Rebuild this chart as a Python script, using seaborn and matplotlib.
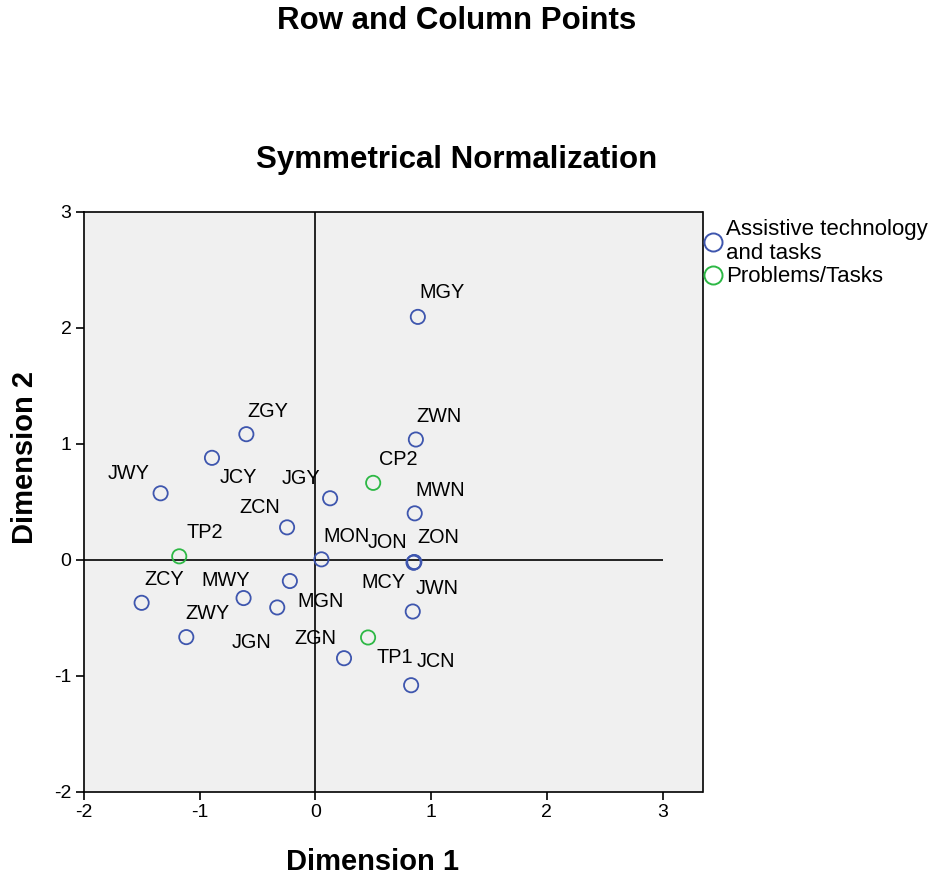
import matplotlib
matplotlib.use("Agg")
import matplotlib.pyplot as plt
from matplotlib.lines import Line2D
import seaborn as sns
import pandas as pd

# Row points: assistive technology and tasks
row_labels = ["MGY", "ZGY", "JCY", "JWY", "JGY", "ZWN", "MWN", "ZCN", "MON", "JON",
              "ZON", "MCY", "ZCY", "MWY", "MGN", "JGN", "ZWY", "ZGN", "JWN", "JCN"]
row_dim1 = [0.885, -0.597, -0.894, -1.338, 0.127, 0.868, 0.858, -0.245, 0.052, 0.851,
            0.855, 0.848, -1.502, -0.621, -0.221, -0.330, -1.116, 0.247, 0.841, 0.827]
row_dim2 = [2.095, 1.083, 0.879, 0.573, 0.530, 1.037, 0.400, 0.279, 0.003, -0.023,
            -0.020, -0.026, -0.372, -0.331, -0.184, -0.412, -0.668, -0.850, -0.447, -1.083]

# Column points: problems / tasks
col_labels = ["CP2", "TP2", "TP1"]
col_dim1 = [0.499, -1.177, 0.455]
col_dim2 = [0.663, 0.029, -0.671]

series_names = ["Assistive technology\nand tasks", "Problems/Tasks"]
x_ticks = [-2, -1, 0, 1, 2, 3]
y_ticks = [-2, -1, 0, 1, 2, 3]

# Label placement (offset in pixels from each point to the label's left/middle)
label_offsets = {
    "MGY": (2, 24), "ZGY": (1, 23), "JCY": (8, -20), "JWY": (-53, 20),
    "JGY": (-48, 20), "ZWN": (1, 23), "MWN": (1, 23), "ZCN": (-48, 20),
    "MON": (2, 23), "JON": (-46, 20), "ZON": (3, 25), "MCY": (-52, -20),
    "ZCY": (3, 23), "MWY": (-42, 18), "MGN": (8, -20), "JGN": (-46, -35),
    "ZWY": (-1, 24), "ZGN": (-50, 20), "JWN": (3, 23), "JCN": (6, 24),
    "CP2": (6, 23), "TP2": (7, 24), "TP1": (8, -20),
}

blue = "#3E56AE"
green = "#2DB845"

rows = pd.DataFrame({"label": row_labels, "dim1": row_dim1, "dim2": row_dim2})
cols = pd.DataFrame({"label": col_labels, "dim1": col_dim1, "dim2": col_dim2})

sns.set_style("white")
plt.rcParams["font.family"] = ["Liberation Sans", "DejaVu Sans"]
plt.rcParams["axes.unicode_minus"] = False
plt.rcParams["text.color"] = "black"
plt.rcParams["axes.labelcolor"] = "black"

fig = plt.figure(figsize=(9.32, 8.8), dpi=100)
ax = fig.add_axes([84 / 932, 1 - 791.5 / 880, (702.5 - 84) / 932, (791.5 - 212) / 880])
ax.set_facecolor("#F0F0F0")

# Reference lines through the origin
ax.axvline(0, color="black", lw=1.2, zorder=1)
ax.hlines(0, x_ticks[0], x_ticks[-1], color="black", lw=1.2, zorder=1)

for df, col in ((rows, blue), (cols, green)):
    sns.scatterplot(data=df, x="dim1", y="dim2", ax=ax, s=105, facecolor="none",
                    edgecolor=col, linewidth=1.3, legend=False, zorder=3)
    for lab, xv, yv in zip(df["label"], df["dim1"], df["dim2"]):
        dx, dy = label_offsets[lab]
        ax.annotate(lab, (xv, yv), xytext=(dx, dy), textcoords="offset pixels",
                    ha="left", va="center", fontsize=14.3, color="black", zorder=4)

ax.set_xlim(-2, 3.345)
ax.set_ylim(-2, 3)
ax.set_xticks(x_ticks)
ax.set_yticks(y_ticks)
ax.tick_params(axis="both", direction="out", length=6, width=1.2, labelsize=14,
               color="black", labelcolor="black", left=True, bottom=True, pad=3)
for sp in ax.spines.values():
    sp.set_visible(True)
    sp.set_color("black")
    sp.set_linewidth(1.2)

ax.set_xlabel("")
ax.set_ylabel("")
fig.text(373 / 932, 1 - 862 / 880, "Dimension 1", ha="center", va="center",
         fontsize=21, fontweight="bold", color="black")
fig.text(25 / 932, 1 - 457 / 880, "Dimension 2", ha="center", va="center",
         fontsize=21, fontweight="bold", rotation=90, color="black")

fig.text(457 / 932, 1 - 21 / 880, "Row and Column Points", ha="center", va="center",
         fontsize=22.5, fontweight="bold", color="black")
fig.text(457 / 932, 1 - 160 / 880, "Symmetrical Normalization", ha="center",
         va="center", fontsize=22.5, fontweight="bold", color="black")

handles = [
    Line2D([], [], ls="none", marker="o", ms=13, mfc="none", mec=blue, mew=1.4),
    Line2D([], [], ls="none", marker="o", ms=13, mfc="none", mec=green, mew=1.4),
]
leg = fig.legend(handles, series_names, loc="upper left",
                 bbox_to_anchor=(703 / 932, 1 - 219 / 880), frameon=False,
                 fontsize=16, handlelength=0.9, handletextpad=0.15,
                 borderaxespad=0, borderpad=0, labelspacing=0.1)
for t in leg.get_texts():
    t.set_color("black")

fig.savefig("out.png", dpi=100)
